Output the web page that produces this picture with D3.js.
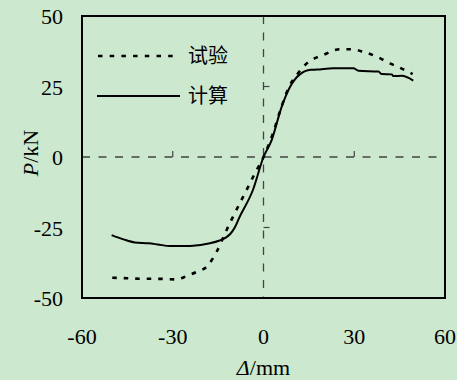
<!DOCTYPE html>
<html>
<head>
<meta charset="utf-8">
<script src="https://cdn.jsdelivr.net/npm/d3@7"></script>
<style>
  html, body { margin: 0; padding: 0; background: #cce8cf; }
  svg { display: block; }
  text { font-family: "Liberation Serif", "Times New Roman", serif; fill: #000; }
  .cjk { font-family: "Noto Sans CJK SC", sans-serif; }
</style>
</head>
<body>
<div id="chart"></div>
<script>
// 试验 (test) curve
const expX = [-50, -45, -40, -35, -28.7, -25.4, -22, -18.8, -15.5, -12.2, -10, -5.6, -2.8, 0, 3, 6, 8.5, 11, 14.3, 19.8, 25.3, 29.2, 33, 37.4, 41.8, 46.2, 49.3];
const expY = [-42.8, -43, -43.2, -43.2, -43.4, -42.2, -40.7, -38.9, -33.6, -25.9, -21, -11.7, -5.7, 0, 8, 18, 25, 29.1, 33.2, 36.2, 38.2, 38.2, 37.3, 35.6, 33.2, 31.1, 29.4];

// 计算 (calculation) curve
const calcX = [-50.2, -46.3, -42.5, -38, -35, -30.9, -24.3, -21, -17.7, -14.5, -12.5, -11, -9.5, -8, -3.5, 0, 2.7, 6, 8.8, 12, 15.7, 17.6, 23.1, 29.7, 31.4, 38, 39.1, 42.4, 42.9, 45.7, 49.5];
const calcY = [-27.7, -29.2, -30.3, -30.6, -31, -31.6, -31.6, -31.2, -30.6, -29.6, -28.6, -27.3, -25, -21.5, -11.7, 0, 6, 17.8, 24.9, 29.3, 30.9, 31, 31.5, 31.5, 30.6, 30.3, 29.4, 29.3, 28.7, 28.8, 27.1];

const xTicks = [-60, -30, 0, 30, 60];
const yTicks = [-50, -25, 0, 25, 50];
const seriesNames = ['试验', '计算'];

const W = 457, H = 380;
const margin = { top: 16, right: 12, bottom: 82, left: 82 };
const width = W - margin.left - margin.right;
const height = H - margin.top - margin.bottom;

const svg = d3.select('#chart').append('svg')
  .attr('width', W)
  .attr('height', H);

const g = svg.append('g')
  .attr('transform', 'translate(' + margin.left + ',' + margin.top + ')');

const x = d3.scaleLinear().domain([-60, 60]).range([0, width]);
const y = d3.scaleLinear().domain([-50, 50]).range([height, 0]);

// dashed zero lines
g.append('line')
  .attr('x1', 0).attr('x2', width)
  .attr('y1', y(0)).attr('y2', y(0))
  .attr('stroke', '#444').attr('stroke-width', 1.3)
  .attr('stroke-dasharray', '8,8.5');
g.append('line')
  .attr('x1', x(0)).attr('x2', x(0))
  .attr('y1', 0).attr('y2', height)
  .attr('stroke', '#444').attr('stroke-width', 1.3)
  .attr('stroke-dasharray', '8,8.5');

// small inner ticks on the zero lines
g.selectAll('.xt').data(xTicks.filter(d => d !== 0 && Math.abs(d) < 60))
  .enter().append('line')
  .attr('x1', d => x(d)).attr('x2', d => x(d))
  .attr('y1', y(0)).attr('y2', y(0) - 6)
  .attr('stroke', '#444').attr('stroke-width', 1.2);
g.selectAll('.yt').data(yTicks.filter(d => d !== 0 && Math.abs(d) < 50))
  .enter().append('line')
  .attr('x1', x(0)).attr('x2', x(0) + 6)
  .attr('y1', d => y(d)).attr('y2', d => y(d))
  .attr('stroke', '#444').attr('stroke-width', 1.2);

// frame
g.append('rect')
  .attr('width', width).attr('height', height)
  .attr('fill', 'none').attr('stroke', '#000').attr('stroke-width', 2);

// tick labels
g.selectAll('.xl').data(xTicks).enter().append('text')
  .attr('x', d => x(d))
  .attr('y', height + 46)
  .attr('text-anchor', 'middle')
  .attr('font-size', 22)
  .text(d => d);
g.selectAll('.yl').data(yTicks).enter().append('text')
  .attr('x', -19)
  .attr('y', d => y(d) + 8)
  .attr('text-anchor', 'end')
  .attr('font-size', 22)
  .text(d => d);

// axis titles
const xt = g.append('text')
  .attr('x', x(0))
  .attr('y', height + 77)
  .attr('text-anchor', 'middle')
  .attr('font-size', 22);
xt.append('tspan').attr('font-style', 'italic').text('Δ');
xt.append('tspan').text('/mm');

const yt = g.append('text')
  .attr('transform', 'translate(' + (-44) + ',' + (y(0) - 4) + ') rotate(-90)')
  .attr('text-anchor', 'middle')
  .attr('font-size', 22);
yt.append('tspan').attr('font-style', 'italic').text('P');
yt.append('tspan').text('/kN');

// curves
const line = d3.line()
  .curve(d3.curveMonotoneX)
  .x(d => x(d[0]))
  .y(d => y(d[1]));

const expData = expX.map((v, i) => [v, expY[i]]);
const calcData = calcX.map((v, i) => [v, calcY[i]]);

g.append('path')
  .datum(expData)
  .attr('fill', 'none')
  .attr('stroke', '#000')
  .attr('stroke-width', 2.6)
  .attr('stroke-dasharray', '4.5,7')
  .attr('d', line);

g.append('path')
  .datum(calcData)
  .attr('fill', 'none')
  .attr('stroke', '#000')
  .attr('stroke-width', 2)
  .attr('d', line);

// legend
const legend = g.append('g');
legend.append('line')
  .attr('x1', 16).attr('x2', 96)
  .attr('y1', 40).attr('y2', 40)
  .attr('stroke', '#000').attr('stroke-width', 2.6)
  .attr('stroke-dasharray', '4.5,7.2');
legend.append('line')
  .attr('x1', 15).attr('x2', 98)
  .attr('y1', 80).attr('y2', 80)
  .attr('stroke', '#000').attr('stroke-width', 2);
legend.selectAll('.lt').data(seriesNames).enter().append('text')
  .attr('class', 'cjk')
  .attr('x', 106)
  .attr('y', (d, i) => 40 + i * 40 + 7)
  .attr('font-size', 20)
  .text(d => d);
</script>
</body>
</html>
